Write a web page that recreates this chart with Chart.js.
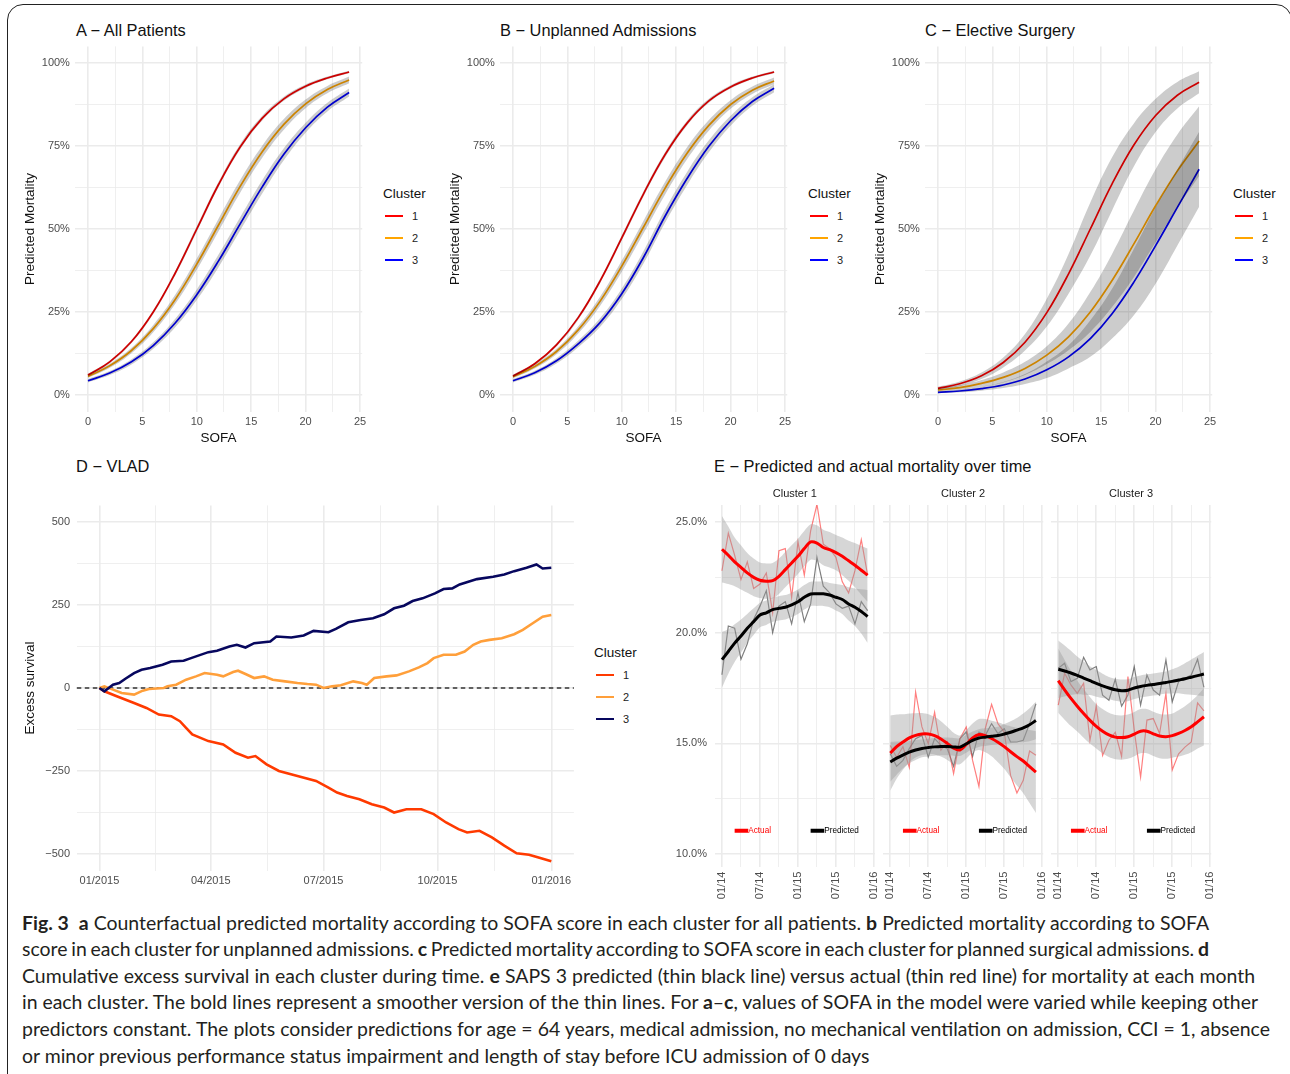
<!DOCTYPE html>
<html>
<head>
<meta charset="utf-8">
<script src="https://cdn.jsdelivr.net/npm/chart.js@4.4.0/dist/chart.umd.min.js"></script>
<style>
body{margin:0;width:1290px;height:1074px;overflow:hidden;background:#fff;position:relative;font-family:"Liberation Sans",Arial,sans-serif}
.frame{position:absolute;left:7px;top:4px;width:1285px;height:1100px;border:1.4px solid #222;border-radius:16px;box-sizing:border-box}
.ttl{position:absolute;font-size:16.4px;color:#111;white-space:nowrap;transform:translateY(-50%)}
.lgT{position:absolute;font-size:13.5px;color:#111;transform:translateY(-50%);white-space:nowrap}
.lgL{position:absolute;font-size:11px;color:#222;transform:translateY(-50%)}
.lgK{position:absolute;width:18px}
#cap{position:absolute;left:22px;top:909.7px;font-family:Lato,"Open Sans",sans-serif;color:#231f20;font-size:18.5px;line-height:26.6px;white-space:nowrap}
</style>
</head>
<body>
<div class="frame"></div>
<div class="ttl" style="left:76px;top:30px">A − All Patients</div>
<div class="ttl" style="left:500px;top:30px">B − Unplanned Admissions</div>
<div class="ttl" style="left:925px;top:30px">C − Elective Surgery</div>
<div class="ttl" style="left:76px;top:466px">D − VLAD</div>
<div class="ttl" style="left:714px;top:466px">E − Predicted and actual mortality over time</div>
<div id="cap">
<div><b>Fig. 3</b>&nbsp; <b>a</b> Counterfactual predicted mortality according to SOFA score in each cluster for all patients. <b>b</b> Predicted mortality according to SOFA</div>
<div>score in each cluster for unplanned admissions. <b>c</b> Predicted mortality according to SOFA score in each cluster for planned surgical admissions. <b>d</b></div>
<div>Cumulative excess survival in each cluster during time. <b>e</b> SAPS 3 predicted (thin black line) versus actual (thin red line) for mortality at each month</div>
<div>in each cluster. The bold lines represent a smoother version of the thin lines. For <b>a</b>–<b>c</b>, values of SOFA in the model were varied while keeping other</div>
<div>predictors constant. The plots consider predictions for age = 64 years, medical admission, no mechanical ventilation on admission, CCI = 1, absence</div>
<div>or minor previous performance status impairment and length of stay before ICU admission of 0 days</div>
</div>
<script>
// ---- A/B/C: predicted mortality (%) by SOFA score ----
var sofa = [0, 2, 4, 6, 8, 10, 12, 14, 16, 18, 20, 22, 24];
var clusters = ['1', '2', '3'];

var allMort1 = [6.0, 10.0, 16.1, 25.0, 36.6, 50.0, 63.4, 74.8, 83.3, 89.2, 93.0, 95.5, 97.3];
var allMort2 = [5.6, 8.8, 13.4, 20.0, 28.7, 39.4, 51.2, 62.9, 73.2, 81.5, 87.7, 92.0, 94.9];
var allMort3 = [4.3, 6.6, 10.0, 14.9, 21.6, 30.2, 40.4, 51.6, 62.6, 72.5, 80.5, 86.7, 91.1];
var allBand1 = [0.4, 0.4, 0.5, 0.6, 0.7, 0.8, 0.8, 0.8, 0.7, 0.6, 0.5, 0.4, 0.4];
var allBand2 = [0.5, 0.6, 0.8, 1.1, 1.4, 1.7, 1.9, 1.9, 1.8, 1.6, 1.3, 1.1, 1.0];
var allBand3 = [0.5, 0.6, 0.8, 1.0, 1.3, 1.6, 1.9, 2.0, 2.0, 1.8, 1.5, 1.3, 1.2];

var unpMort1 = [5.7, 9.4, 15.1, 23.3, 34.3, 47.3, 60.6, 72.5, 81.9, 88.6, 92.8, 95.5, 97.3];
var unpMort2 = [5.5, 8.6, 13.1, 19.6, 28.2, 38.8, 50.6, 62.4, 72.8, 81.2, 87.5, 91.8, 94.6];
var unpMort3 = [4.3, 6.7, 10.3, 15.4, 21.8, 30.5, 41.5, 54.0, 65.2, 74.9, 82.6, 88.4, 92.4];
var unpBand1 = [0.4, 0.4, 0.5, 0.6, 0.7, 0.8, 0.8, 0.8, 0.7, 0.6, 0.5, 0.4, 0.4];
var unpBand2 = [0.5, 0.6, 0.8, 1.1, 1.4, 1.7, 1.9, 1.9, 1.8, 1.6, 1.3, 1.1, 1.0];
var unpBand3 = [0.5, 0.6, 0.8, 1.0, 1.3, 1.6, 1.9, 2.0, 2.0, 1.8, 1.5, 1.3, 1.2];

var elecMort1 = [2.0, 3.4, 5.8, 9.8, 15.9, 24.8, 36.5, 50.0, 63.6, 75.3, 84.2, 90.3, 94.2];
var elecMort2 = [1.5, 2.2, 3.5, 5.3, 8.0, 12.0, 17.5, 25.0, 34.5, 45.5, 57.0, 67.5, 76.5];
var elecMort3 = [0.8, 1.2, 1.9, 3.0, 4.8, 7.6, 11.5, 17.0, 24.5, 34.0, 45.0, 56.5, 68.0];
var elecBand1 = [0.5, 0.7, 1.0, 1.5, 2.5, 4.2, 6.0, 8.0, 8.0, 6.5, 5.0, 4.0, 3.3];
var elecBand2 = [0.5, 0.7, 1.0, 1.5, 2.0, 2.7, 4.0, 6.0, 8.0, 10.0, 11.0, 11.0, 10.5];
var elecBand3 = [0.3, 0.4, 0.6, 0.9, 1.5, 2.5, 3.5, 5.5, 7.5, 10.0, 11.5, 11.5, 11.3];

var sofaMajor = [0, 5, 10, 15, 20, 25];
var sofaTicks = [0, 2.5, 5, 7.5, 10, 12.5, 15, 17.5, 20, 22.5, 25];
var pctMajor = [0, 25, 50, 75, 100];
var pctTicks = [0, 12.5, 25, 37.5, 50, 62.5, 75, 87.5, 100];

// ---- D: VLAD, day of 2015 -> cumulative excess survival ----
var vladDays1 = [0, 4, 14, 28, 38, 48, 58, 65, 70, 75, 88, 100, 110, 120, 126, 135, 145, 160, 175, 185, 192, 200, 210, 220, 230, 238, 248, 260, 270, 280, 290, 297, 307, 317, 327, 337, 347, 354, 365];
var vladVals1 = [0, -10, -25, -45, -60, -80, -85, -100, -120, -140, -160, -170, -195, -210, -205, -230, -250, -265, -280, -300, -315, -325, -335, -350, -360, -375, -365, -365, -380, -405, -425, -435, -430, -450, -475, -498, -502, -510, -522];
var vladDays2 = [0, 4, 11, 18, 28, 35, 40, 52, 55, 62, 70, 78, 85, 95, 100, 108, 112, 118, 125, 133, 140, 150, 160, 168, 175, 181, 188, 195, 205, 212, 216, 222, 232, 240, 250, 258, 265, 270, 278, 288, 295, 302, 308, 315, 325, 335, 342, 350, 358, 365];
var vladVals2 = [0, 5, -5, -15, -20, -8, -3, 0, 5, 10, 25, 35, 45, 40, 35, 48, 52, 42, 30, 35, 25, 20, 15, 12, 10, 0, 5, 8, 20, 15, 10, 30, 35, 38, 50, 62, 75, 90, 100, 100, 110, 130, 140, 145, 150, 162, 175, 195, 215, 220];
var vladDays3 = [0, 4, 11, 16, 21, 28, 34, 41, 51, 58, 68, 74, 88, 95, 105, 111, 118, 125, 138, 143, 155, 165, 173, 185, 191, 201, 211, 221, 230, 238, 246, 253, 261, 271, 278, 285, 291, 305, 318, 327, 335, 345, 353, 358, 365];
var vladVals3 = [0, -10, 10, 15, 28, 45, 55, 60, 70, 80, 82, 90, 108, 112, 125, 130, 122, 135, 140, 155, 152, 158, 172, 168, 178, 198, 205, 210, 222, 240, 248, 262, 270, 285, 298, 300, 312, 328, 335, 342, 352, 362, 372, 360, 362];
var dayTicks = [0, 45, 90, 135.5, 181, 227, 273, 319, 365];
var dayMajor = {0: '01/2015', 90: '04/2015', 181: '07/2015', 273: '10/2015', 365: '01/2016'};
var vladTicks = [-500, -375, -250, -125, 0, 125, 250, 375, 500];
var vladMajor = [-500, -250, 0, 250, 500];

// ---- E: monthly mortality (%) per cluster ----
var months = ['01/14', '02/14', '03/14', '04/14', '05/14', '06/14', '07/14', '08/14', '09/14', '10/14', '11/14', '12/14',
              '01/15', '02/15', '03/15', '04/15', '05/15', '06/15', '07/15', '08/15', '09/15', '10/15', '11/15', '12/15'];

var c1Actual = [22.8, 24.5, 23.5, 22.4, 23.2, 22.0, 22.2, 22.7, 20.9, 23.7, 23.8, 21.6, 24.1, 22.6, 24.6, 25.8, 24.0, 23.8, 23.4, 22.3, 21.8, 22.8, 24.2, 22.6];
var c1Pred = [18.1, 20.3, 20.2, 18.8, 19.5, 20.6, 21.2, 21.9, 20.0, 21.2, 21.4, 20.4, 21.8, 20.5, 21.3, 23.4, 22.1, 21.8, 21.3, 21.1, 21.2, 20.4, 21.4, 21.0];
var c1ActualSmooth = [23.77, 23.5, 23.2, 22.95, 22.7, 22.5, 22.37, 22.33, 22.35, 22.55, 22.85, 23.15, 23.45, 23.8, 24.1, 24.05, 23.85, 23.75, 23.62, 23.45, 23.25, 23.05, 22.82, 22.6];
var c1ActualBand = [1.5, 1.3, 1.1, 1.0, 0.9, 0.85, 0.8, 0.8, 0.8, 0.8, 0.8, 0.8, 0.8, 0.8, 0.8, 0.8, 0.8, 0.8, 0.8, 0.85, 0.9, 1.0, 1.1, 1.2];
var c1PredSmooth = [18.78, 19.15, 19.53, 19.85, 20.2, 20.5, 20.8, 20.9, 21.04, 21.1, 21.15, 21.26, 21.4, 21.6, 21.75, 21.76, 21.76, 21.7, 21.6, 21.5, 21.3, 21.15, 20.96, 20.73];
var c1PredBand = [1.25, 1.0, 0.85, 0.75, 0.65, 0.6, 0.55, 0.55, 0.55, 0.55, 0.55, 0.55, 0.55, 0.55, 0.55, 0.55, 0.55, 0.55, 0.6, 0.65, 0.75, 0.85, 1.0, 1.2];

var c2Actual = [14.9, 14.37, 14.85, 13.92, 17.32, 15.74, 14.98, 16.4, 14.7, 15.06, 13.63, 15.21, 15.74, 14.23, 13.05, 15.66, 16.76, 15.89, 15.51, 13.55, 12.76, 13.33, 14.65, 14.46];
var c2Pred = [14.53, 13.96, 14.23, 14.76, 15.21, 15.36, 14.38, 15.21, 14.91, 14.76, 13.96, 15.21, 15.51, 14.41, 15.51, 15.36, 15.89, 15.44, 15.66, 15.06, 15.06, 15.14, 15.89, 16.79];
var c2ActualSmooth = [14.56, 14.85, 15.06, 15.25, 15.36, 15.42, 15.42, 15.35, 15.2, 15.0, 14.78, 14.7, 14.95, 15.25, 15.4, 15.35, 15.22, 15.05, 14.85, 14.62, 14.4, 14.2, 13.95, 13.7];
var c2ActualBand = [1.7, 1.45, 1.25, 1.1, 1.0, 0.95, 0.9, 0.85, 0.8, 0.75, 0.7, 0.65, 0.65, 0.65, 0.7, 0.75, 0.8, 0.9, 1.0, 1.15, 1.3, 1.45, 1.65, 1.85];
var c2PredSmooth = [14.16, 14.33, 14.47, 14.6, 14.7, 14.77, 14.81, 14.84, 14.86, 14.86, 14.84, 14.83, 14.98, 15.13, 15.24, 15.28, 15.32, 15.35, 15.42, 15.5, 15.6, 15.7, 15.84, 16.03];
var c2PredBand = [0.9, 0.75, 0.6, 0.5, 0.45, 0.4, 0.4, 0.4, 0.4, 0.4, 0.4, 0.4, 0.4, 0.4, 0.4, 0.4, 0.4, 0.4, 0.45, 0.5, 0.55, 0.65, 0.75, 0.85];

var c3Actual = [16.73, 18.17, 17.64, 17.26, 17.71, 15.14, 16.68, 14.45, 15.14, 15.5, 14.41, 18.02, 15.59, 13.47, 16.05, 16.12, 15.44, 17.26, 13.8, 14.53, 14.83, 15.06, 16.83, 16.47];
var c3Pred = [18.39, 18.62, 17.79, 17.94, 18.89, 18.32, 18.47, 17.18, 16.95, 17.89, 16.68, 17.18, 18.47, 16.73, 18.09, 17.41, 17.18, 18.77, 16.88, 17.79, 17.94, 18.09, 18.8, 17.53];
var c3ActualSmooth = [17.83, 17.42, 17.03, 16.68, 16.35, 16.04, 15.77, 15.55, 15.38, 15.28, 15.26, 15.3, 15.42, 15.55, 15.55, 15.43, 15.33, 15.3, 15.35, 15.45, 15.58, 15.75, 15.97, 16.2];
var c3ActualBand = [1.45, 1.35, 1.25, 1.15, 1.1, 1.05, 1.0, 1.0, 1.0, 1.0, 1.0, 1.0, 1.0, 1.0, 1.0, 1.0, 1.0, 1.0, 1.0, 1.05, 1.1, 1.15, 1.2, 1.3];
var c3PredSmooth = [18.35, 18.27, 18.18, 18.07, 17.95, 17.83, 17.71, 17.6, 17.5, 17.42, 17.38, 17.4, 17.5, 17.57, 17.62, 17.66, 17.7, 17.75, 17.8, 17.86, 17.92, 17.99, 18.06, 18.13];
var c3PredBand = [1.3, 1.15, 1.0, 0.85, 0.75, 0.65, 0.6, 0.55, 0.5, 0.5, 0.5, 0.5, 0.5, 0.5, 0.5, 0.5, 0.5, 0.5, 0.55, 0.6, 0.7, 0.8, 0.9, 1.0];

var monthTicks = [0, 3, 6, 9, 12, 15, 18, 21, 24];
var monthMajor = {0: '01/14', 6: '07/14', 12: '01/15', 18: '07/15', 24: '01/16'};
var rateTicks = [10, 12.5, 15, 17.5, 20, 22.5, 25];
var rateMajor = [10, 15, 20, 25];
var keyLevel = 11.05;
var keyActual = [2, 4.15];
var keyPred = [14, 16.15];

// ---- common ----
var FONT = '"Liberation Sans", Arial, Helvetica, sans-serif';
var GRID = '#EBEBEB';
var TICK_COL = '#4D4D4D';
Chart.defaults.font.family = FONT;
Chart.defaults.animation = false;
Chart.defaults.plugins.legend.display = false;
Chart.defaults.plugins.tooltip.enabled = false;

function addCanvas(r) {
    var d = document.createElement('div');
    d.style.cssText = 'position:absolute;left:' + r.left + 'px;top:' + r.top + 'px;width:' + r.w + 'px;height:' + r.h + 'px';
    var c = document.createElement('canvas');
    d.appendChild(c);
    document.body.appendChild(d);
    return c;
}

function gridOf(majors) {
    return {
        color: GRID,
        drawTicks: false,
        lineWidth: function(c) { return (c.tick && majors.indexOf(c.tick.value) >= 0) ? 1.6 : 0.8; }
    };
}

function pts(xs, ys, add) {
    return xs.map(function(x, i) { return {x: x, y: ys[i] + (add ? add[i] : 0)}; });
}

function legendBox(x, y, title, colors, thick) {
    var t = document.createElement('div');
    t.className = 'lgT'; t.style.left = x + 'px'; t.style.top = y + 'px'; t.textContent = title;
    document.body.appendChild(t);
    clusters.forEach(function(c, i) {
        var yy = y + 23 + i * 22;
        var k = document.createElement('div');
        k.className = 'lgK';
        k.style.cssText += ';left:' + (x + 2) + 'px;top:' + (yy - thick / 2) + 'px;height:' + thick + 'px;background:' + colors[i];
        document.body.appendChild(k);
        var l = document.createElement('div');
        l.className = 'lgL'; l.style.left = (x + 29) + 'px'; l.style.top = yy + 'px'; l.textContent = c;
        document.body.appendChild(l);
    });
}

// ---- panels A, B, C ----
var sigColors = ['#FF0000', '#FFA500', '#0000FF'];

function sigmoidPanel(off, mids, bands) {
    var rect = {left: off, top: 0, w: 380, h: 450};
    var area = {left: off + 74.9, right: off + 362.2, top: 46.4, bottom: 411.6};
    var ds = [];
    mids.forEach(function(m, k) {
        var neg = bands[k].map(function(b) { return -b; });
        ds.push({data: pts(sofa, m, bands[k]), fill: '+1', backgroundColor: 'rgba(0,0,0,0.2)',
                 borderColor: 'transparent', borderWidth: 0, pointRadius: 0, tension: 0.4, order: 1});
        ds.push({data: pts(sofa, m, neg), fill: false, borderColor: 'transparent', borderWidth: 0,
                 pointRadius: 0, tension: 0.4, order: 1});
    });
    mids.forEach(function(m, k) {
        ds.push({data: pts(sofa, m), borderColor: sigColors[k], borderWidth: 1.7, pointRadius: 0,
                 fill: false, tension: 0.4, order: 2});
    });
    new Chart(addCanvas(rect), {
        type: 'line',
        data: {datasets: ds},
        options: {
            responsive: true, maintainAspectRatio: false,
            layout: {padding: {left: 0, top: area.top - rect.top, right: rect.left + rect.w - area.right, bottom: 0}},
            scales: {
                x: {
                    type: 'linear', min: -1.2, max: 25.2,
                    afterBuildTicks: function(s) { s.ticks = sofaTicks.map(function(v) { return {value: v}; }); },
                    afterFit: function(s) { s.height = rect.top + rect.h - area.bottom; },
                    ticks: {autoSkip: false, maxRotation: 0, padding: 4, color: TICK_COL, font: {size: 11},
                            callback: function(v) { return sofaMajor.indexOf(v) >= 0 ? String(v) : ''; }},
                    grid: gridOf(sofaMajor), border: {display: false},
                    title: {display: true, text: 'SOFA', color: '#111', font: {size: 13.5}, padding: {top: 0, bottom: 4}}
                },
                y: {
                    min: -5, max: 105,
                    afterBuildTicks: function(s) { s.ticks = pctTicks.map(function(v) { return {value: v}; }); },
                    afterFit: function(s) { s.width = area.left - rect.left; },
                    ticks: {padding: 5, color: TICK_COL, font: {size: 11},
                            callback: function(v) { return pctMajor.indexOf(v) >= 0 ? v + '%' : ''; }},
                    grid: gridOf(pctMajor), border: {display: false},
                    title: {display: true, text: 'Predicted Mortality', color: '#111', font: {size: 13.5}, padding: {top: 22, bottom: 0}}
                }
            }
        }
    });
    legendBox(off + 383, 193, 'Cluster', sigColors, 1.7);
}

sigmoidPanel(0, [allMort1, allMort2, allMort3], [allBand1, allBand2, allBand3]);
sigmoidPanel(425, [unpMort1, unpMort2, unpMort3], [unpBand1, unpBand2, unpBand3]);
sigmoidPanel(850, [elecMort1, elecMort2, elecMort3], [elecBand1, elecBand2, elecBand3]);

// ---- panel D ----
var vladColors = ['#FF3A00', '#FF9F3A', '#07075E'];
var zeroLine = {
    id: 'zeroLine',
    beforeDatasetsDraw: function(chart) {
        var a = chart.chartArea, y = chart.scales.y.getPixelForValue(0), ctx = chart.ctx;
        ctx.save();
        ctx.strokeStyle = '#333'; ctx.lineWidth = 1.3; ctx.setLineDash([4.5, 3.5]);
        ctx.beginPath(); ctx.moveTo(a.left, y); ctx.lineTo(a.right, y); ctx.stroke();
        ctx.restore();
    }
};
(function() {
    var rect = {left: 0, top: 450, w: 590, h: 440};
    var area = {left: 76.8, right: 573.9, top: 505.4, bottom: 870.6};
    var series = [[vladDays1, vladVals1], [vladDays2, vladVals2], [vladDays3, vladVals3]];
    var ds = series.map(function(s, k) {
        return {data: pts(s[0], s[1]), borderColor: vladColors[k], borderWidth: 2.6, pointRadius: 0,
                fill: false, tension: 0, order: 3 - k};
    });
    new Chart(addCanvas(rect), {
        type: 'line',
        data: {datasets: ds},
        plugins: [zeroLine],
        options: {
            responsive: true, maintainAspectRatio: false,
            layout: {padding: {left: 0, top: area.top - rect.top, right: rect.left + rect.w - area.right, bottom: 0}},
            scales: {
                x: {
                    type: 'linear', min: -18.25, max: 383.25,
                    afterBuildTicks: function(s) { s.ticks = dayTicks.map(function(v) { return {value: v}; }); },
                    afterFit: function(s) { s.height = rect.top + rect.h - area.bottom; },
                    ticks: {autoSkip: false, maxRotation: 0, padding: 4, color: TICK_COL, font: {size: 11},
                            callback: function(v) { return dayMajor[v] || ''; }},
                    grid: gridOf([0, 90, 181, 273, 365]), border: {display: false}
                },
                y: {
                    min: -550, max: 550,
                    afterBuildTicks: function(s) { s.ticks = vladTicks.map(function(v) { return {value: v}; }); },
                    afterFit: function(s) { s.width = area.left - rect.left; },
                    ticks: {padding: 6.8, color: TICK_COL, font: {size: 11},
                            callback: function(v) { return vladMajor.indexOf(v) >= 0 ? String(v).replace('-', '\u2212') : ''; }},
                    grid: gridOf(vladMajor), border: {display: false},
                    title: {display: true, text: 'Excess survival', color: '#111', font: {size: 13.5}, padding: {top: 22, bottom: 0}}
                }
            }
        }
    });
    legendBox(594, 652, 'Cluster', vladColors, 2.6);
})();

// ---- panel E ----
var facetDecor = {
    id: 'facetDecor',
    afterDatasetsDraw: function(chart, args, opts) {
        var a = chart.chartArea, ctx = chart.ctx, x = chart.scales.x, y = chart.scales.y;
        ctx.save();
        ctx.font = '11px ' + FONT; ctx.fillStyle = '#1a1a1a';
        ctx.textAlign = 'center'; ctx.textBaseline = 'middle';
        ctx.fillText(opts.strip, (a.left + a.right) / 2, a.top - 11);
        ctx.font = '8.2px ' + FONT; ctx.textAlign = 'left';
        var yy = y.getPixelForValue(keyLevel);
        ctx.fillStyle = '#FF0000'; ctx.fillText('Actual', x.getPixelForValue(keyActual[1]), yy);
        ctx.fillStyle = '#000000'; ctx.fillText('Predicted', x.getPixelForValue(keyPred[1]), yy);
        ctx.restore();
    }
};

function facet(rect, area, strip, actual, pred, aSm, aBand, pSm, pBand, showY) {
    var idx = months.map(function(m, i) { return i; });
    var ds = [];
    function ribbon(mid, band) {
        var neg = band.map(function(b) { return -b; });
        ds.push({data: pts(idx, mid, band), fill: '+1', backgroundColor: 'rgba(153,153,153,0.4)', borderColor: 'transparent',
                 borderWidth: 0, pointRadius: 0, tension: 0.3, order: 3});
        ds.push({data: pts(idx, mid, neg), fill: false, borderColor: 'transparent', borderWidth: 0,
                 pointRadius: 0, tension: 0.3, order: 3});
    }
    ds.push({data: pts(idx, actual), borderColor: 'rgba(255,0,0,0.5)', borderWidth: 1.2, pointRadius: 0, fill: false, order: 4});
    ds.push({data: pts(idx, pred), borderColor: 'rgba(0,0,0,0.5)', borderWidth: 1.2, pointRadius: 0, fill: false, order: 4});
    ribbon(aSm, aBand);
    ribbon(pSm, pBand);
    ds.push({data: pts(idx, aSm), borderColor: '#FF0000', borderWidth: 3, pointRadius: 0, fill: false, tension: 0.3, order: 2});
    ds.push({data: pts(idx, pSm), borderColor: '#000000', borderWidth: 3, pointRadius: 0, fill: false, tension: 0.3, order: 1});
    ds.push({data: [{x: keyActual[0], y: keyLevel}, {x: keyActual[1], y: keyLevel}], borderColor: '#FF0000', borderWidth: 4, pointRadius: 0, order: 0});
    ds.push({data: [{x: keyPred[0], y: keyLevel}, {x: keyPred[1], y: keyLevel}], borderColor: '#000000', borderWidth: 4, pointRadius: 0, order: 0});
    new Chart(addCanvas(rect), {
        type: 'line',
        data: {datasets: ds},
        plugins: [facetDecor],
        options: {
            responsive: true, maintainAspectRatio: false,
            layout: {padding: {left: showY ? 0 : area.left - rect.left, top: area.top - rect.top, right: rect.left + rect.w - area.right, bottom: 0}},
            plugins: {facetDecor: {strip: strip}},
            scales: {
                x: {
                    type: 'linear', min: -1.15, max: 24.15,
                    afterBuildTicks: function(s) { s.ticks = monthTicks.map(function(v) { return {value: v}; }); },
                    afterFit: function(s) { s.height = rect.top + rect.h - area.bottom; },
                    ticks: {autoSkip: false, minRotation: 90, maxRotation: 90, padding: 5, color: TICK_COL, font: {size: 11},
                            callback: function(v) { return monthMajor[v] || ''; }},
                    grid: gridOf([0, 6, 12, 18, 24]), border: {display: false}
                },
                y: {
                    min: 9.43, max: 25.77,
                    afterBuildTicks: function(s) { s.ticks = rateTicks.map(function(v) { return {value: v}; }); },
                    afterFit: function(s) { s.width = showY ? area.left - rect.left : 0; },
                    ticks: {display: showY, padding: 7.7, color: TICK_COL, font: {size: 11},
                            callback: function(v) { return rateMajor.indexOf(v) >= 0 ? v.toFixed(1) + '%' : ''; }},
                    grid: gridOf(rateMajor), border: {display: false}
                }
            }
        }
    });
}

facet({left: 660, top: 480, w: 240, h: 430}, {left: 714.7, right: 874.9, top: 505, bottom: 866.6},
      'Cluster 1', c1Actual, c1Pred, c1ActualSmooth, c1ActualBand, c1PredSmooth, c1PredBand, true);
facet({left: 882.7, top: 480, w: 185, h: 430}, {left: 882.7, right: 1042.9, top: 505, bottom: 866.6},
      'Cluster 2', c2Actual, c2Pred, c2ActualSmooth, c2ActualBand, c2PredSmooth, c2PredBand, false);
facet({left: 1050.7, top: 480, w: 185, h: 430}, {left: 1050.7, right: 1210.9, top: 505, bottom: 866.6},
      'Cluster 3', c3Actual, c3Pred, c3ActualSmooth, c3ActualBand, c3PredSmooth, c3PredBand, false);

// ---- caption: fit line widths to the reference ----
document.fonts.ready.then(function() {
    var cap = document.getElementById('cap');
    var lines = cap.querySelectorAll('div');
    var targets = [1187, 1187, 1233, 1236, 1248, 0];
    lines.forEach(function(l) { l.style.display = 'inline-block'; });
    var w0 = lines[0].getBoundingClientRect().width;
    var size = 18.5 * 1187 / w0;
    cap.style.fontSize = size.toFixed(2) + 'px';
    lines.forEach(function(l, i) {
        if (!targets[i]) return;
        var w = l.getBoundingClientRect().width;
        var spaces = (l.textContent.match(/ /g) || []).length;
        l.style.wordSpacing = ((targets[i] - w) / spaces).toFixed(2) + 'px';
    });
    lines.forEach(function(l) { l.style.display = 'block'; });
});
</script>
</body>
</html>
